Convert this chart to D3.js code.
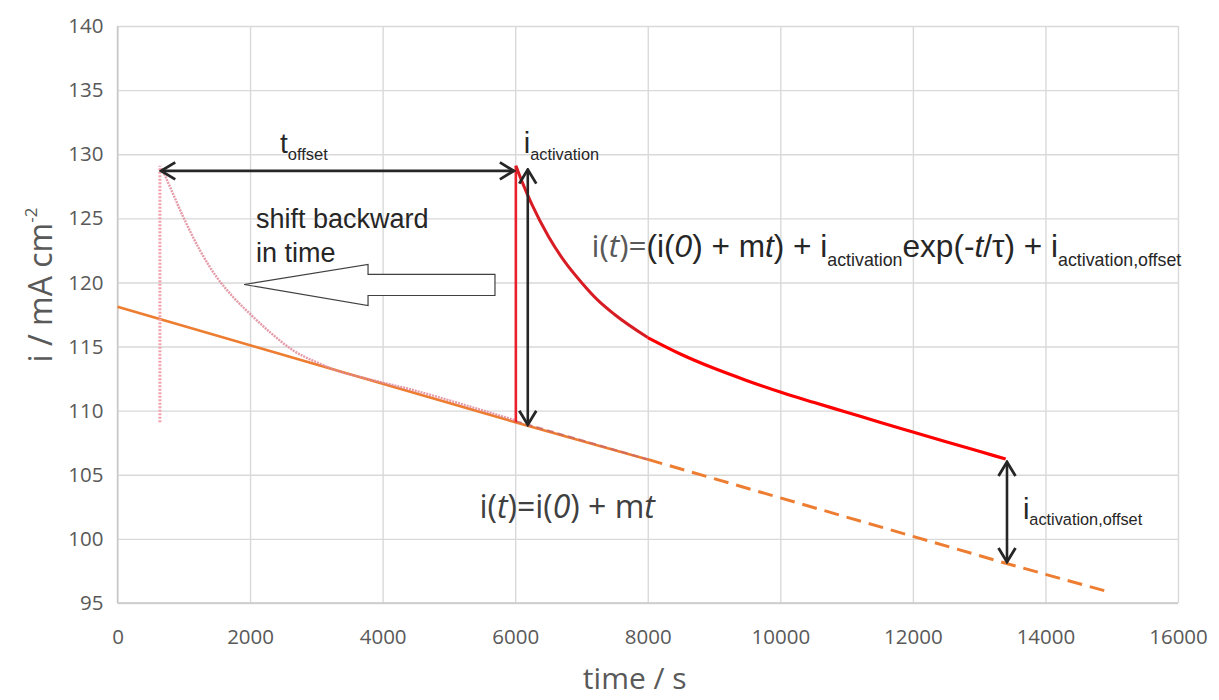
<!DOCTYPE html>
<html>
<head>
<meta charset="utf-8">
<script src="https://cdn.jsdelivr.net/npm/d3@7"></script>
<style>
  body { margin: 0; background: #fff; }
  text { white-space: pre; }
</style>
</head>
<body>
<script>
// ////////// Data ////////////
var xTicks = [0, 2000, 4000, 6000, 8000, 10000, 12000, 14000, 16000];
var yTicks = [95, 100, 105, 110, 115, 120, 125, 130, 135, 140];

// linear baseline i(0) + m t
var baseSolid  = [[0, 118.1], [2000, 115.1], [4000, 112.1], [6000, 109.1], [8000, 106.2]];
var baseDashed = [[8000, 106.2], [10000, 103.2], [12000, 100.2], [13400, 98.1], [15000, 95.8]];

// measured current after activation (inside the pasted part, then the tail)
var redHead = [[6010, 109.1], [6010, 129.1], [6100, 127.9], [6250, 126.1], [6500, 123.6],
               [6750, 121.6], [7000, 120.0], [7250, 118.6], [7500, 117.5], [8000, 115.7]];
var redTail = [[8000, 115.7], [8500, 114.4], [9000, 113.3], [9500, 112.34], [10000, 111.45],
               [10500, 110.65], [11000, 109.88], [11500, 109.1], [12000, 108.34], [12500, 107.58],
               [13000, 106.83], [13400, 106.23]];

// same curve shifted backward in time
var shiftedStep = [[640, 109.1], [640, 129.1]];
var shiftedCurve = [[667, 128.9], [792, 127.45], [993, 125.1], [1245, 122.5], [1497, 120.41],
                    [1747, 118.85], [1999, 117.55], [2301, 116.12], [2652, 114.69], [3005, 113.77],
                    [3307, 113.13], [3760, 112.5], [4500, 111.55], [5200, 110.5], [6000, 109.25]];
var shiftedTail = [[6000, 109.2], [7000, 107.7], [8000, 106.2]];

// ////////////// svg //////////////
var W = 1219, H = 700;
var margin = {top: 26, right: 41, bottom: 97, left: 117.5},
  width = W - margin.left - margin.right,
  height = H - margin.top - margin.bottom;

var svg0 = d3.select("body").append("svg")
  .attr("width", W)
  .attr("height", H);
svg0.append("rect").attr("width", W).attr("height", H).attr("fill", "#fff");

var svg = svg0.append("g")
  .attr("transform", "translate(" + margin.left + "," + margin.top + ")");

// ////////////// Scaling //////////////
var x = d3.scaleLinear().domain([0, 16000]).range([0, width]);
var y = d3.scaleLinear().domain([95, 140]).range([height, 0]);

var tickFont = "'Open Sans', 'DejaVu Sans', sans-serif";
var annFont = "'Liberation Sans', Arial, sans-serif";

// ////////////// Axes + grid //////////////
var gx = svg.append("g")
  .attr("transform", "translate(0," + height + ")")
  .call(d3.axisBottom(x).tickValues(xTicks).tickSize(-height).tickPadding(26).tickFormat(d3.format("d")));
var gy = svg.append("g")
  .call(d3.axisLeft(y).tickValues(yTicks).tickSize(-width).tickPadding(14));

[gx, gy].forEach(function(g){
  g.select(".domain").remove();
  g.selectAll(".tick line").attr("stroke", "#d9d9d9").attr("stroke-width", 1.4);
  g.selectAll(".tick text")
    .attr("fill", "#595959")
    .style("font-family", tickFont)
    .style("font-size", "20.5px");
});
// axis lines a bit darker
svg.append("line").attr("x1", 0).attr("x2", 0).attr("y1", 0).attr("y2", height)
  .attr("stroke", "#c8c8c8").attr("stroke-width", 1.4);
svg.append("line").attr("x1", 0).attr("x2", width).attr("y1", height).attr("y2", height)
  .attr("stroke", "#c8c8c8").attr("stroke-width", 1.4);

// axis titles
svg.append("text")
  .attr("x", x(8000) - 13).attr("y", height + 86)
  .attr("text-anchor", "middle")
  .attr("fill", "#595959")
  .style("font-family", tickFont).style("font-size", "30px")
  .text("time / s");

var yt = svg.append("text")
  .attr("transform", "translate(" + (-66) + "," + (y(119.8)) + ") rotate(-90)")
  .attr("text-anchor", "middle")
  .attr("fill", "#595959")
  .style("font-family", tickFont).style("font-size", "32px");
yt.append("tspan").text("i / mA cm");
yt.append("tspan").text("-2").attr("dy", -15).style("font-size", "17px");

// ////////////// Lines //////////////
var line = d3.line()
  .x(function(d){ return x(d[0]); })
  .y(function(d){ return y(d[1]); });
var smooth = d3.line()
  .x(function(d){ return x(d[0]); })
  .y(function(d){ return y(d[1]); })
  .curve(d3.curveMonotoneX);

svg.append("path").datum(baseSolid).attr("d", line)
  .attr("fill", "none").attr("stroke", "#ed7d31").attr("stroke-width", 2.6);
svg.append("path").datum(baseDashed).attr("d", line)
  .attr("fill", "none").attr("stroke", "#ed7d31").attr("stroke-width", 3)
  .attr("stroke-dasharray", "15,8");

// shifted (faded) copy
svg.append("path").datum(shiftedStep).attr("d", line)
  .attr("fill", "none").attr("stroke", "#f2a2ac").attr("stroke-width", 3)
  .attr("stroke-dasharray", "2,1.5");
svg.append("path").datum(shiftedCurve).attr("d", smooth)
  .attr("fill", "none").attr("stroke", "#e08898").attr("stroke-width", 2.4)
  .attr("stroke-dasharray", "2,1").attr("opacity", 0.85);
svg.append("path").datum(shiftedTail).attr("d", line)
  .attr("fill", "none").attr("stroke", "#c9666a").attr("stroke-width", 2)
  .attr("stroke-dasharray", "7,4").attr("opacity", 0.8);

// red measured curve
svg.append("path").datum(redHead.slice(0, 2)).attr("d", line)
  .attr("fill", "none").attr("stroke", "#e8202a").attr("stroke-width", 2.6);
svg.append("path").datum(redHead.slice(1)).attr("d", smooth)
  .attr("fill", "none").attr("stroke", "#d81c24").attr("stroke-width", 3);
svg.append("path").datum(redTail).attr("d", smooth)
  .attr("fill", "none").attr("stroke", "#ff0000").attr("stroke-width", 3.2);

// ////////////// Annotations //////////////
var defs = svg0.append("defs");
defs.append("marker")
  .attr("id", "chev")
  .attr("viewBox", "0 0 18 20")
  .attr("refX", 16).attr("refY", 10)
  .attr("markerWidth", 18).attr("markerHeight", 20)
  .attr("markerUnits", "userSpaceOnUse")
  .attr("orient", "auto-start-reverse")
  .append("path")
    .attr("d", "M2,1.5 L16,10 L2,18.5")
    .attr("fill", "none").attr("stroke", "#262626").attr("stroke-width", 2.8)
    .attr("stroke-linejoin", "miter");

function doubleArrow(p1, p2) {
  svg.append("line")
    .attr("x1", x(p1[0])).attr("y1", y(p1[1]))
    .attr("x2", x(p2[0])).attr("y2", y(p2[1]))
    .attr("stroke", "#262626").attr("stroke-width", 2.6)
    .attr("marker-start", "url(#chev)")
    .attr("marker-end", "url(#chev)");
}

doubleArrow([660, 128.7], [5980, 128.7]);     // t_offset
doubleArrow([6190, 128.8], [6190, 108.9]);    // i_activation
doubleArrow([13420, 106.0], [13420, 98.2]);   // i_activation,offset

// hollow "shift" arrow
var shiftArrow = [[1911, 119.84], [3780, 121.41], [3780, 120.63], [5695, 120.63],
                  [5695, 118.98], [3780, 118.98], [3780, 118.2]];
svg.append("polygon")
  .attr("points", shiftArrow.map(function(p){ return x(p[0]) + "," + y(p[1]); }).join(" "))
  .attr("fill", "#fff").attr("stroke", "#404040").attr("stroke-width", 1.2);

// rich text helper: parts [{s, sub, it, font, fill}]
function richText(px, py, parts, size, subSize, subDy, family, color) {
  var t = svg.append("text")
    .attr("x", px).attr("y", py)
    .attr("fill", color)
    .style("font-family", family)
    .style("font-size", size + "px");
  var cur = 0;
  parts.forEach(function(p){
    var ts = t.append("tspan").text(p.s);
    var want = p.sub ? subDy : 0;
    if (want !== cur) ts.attr("dy", want - cur);
    cur = want;
    if (p.sub) ts.style("font-size", subSize + "px");
    if (p.it) ts.style("font-style", "italic");
    if (p.font) ts.style("font-family", p.font);
    if (p.fill) ts.attr("fill", p.fill);
  });
  return t;
}

var dark = "#262626";
var eqGray = "#404040";

richText(x(2452), y(130.08), [{s: "t"}, {s: "offset", sub: true}], 28, 16.5, 7, annFont, dark);
richText(x(6130), y(130.08), [{s: "i"}, {s: "activation", sub: true}], 29, 16.3, 7, annFont, dark);
richText(x(13660), y(101.56), [{s: "i"}, {s: "activation,offset", sub: true}], 29, 16.3, 6, annFont, dark);

svg.append("text").attr("x", x(2090)).attr("y", y(124.22))
  .attr("fill", dark).style("font-family", annFont).style("font-size", "27px")
  .text("shift backward");
svg.append("text").attr("x", x(2090)).attr("y", y(121.56))
  .attr("fill", dark).style("font-family", annFont).style("font-size", "27px")
  .text("in time");

// full model equation
richText(x(7150), y(121.95), [
  {s: "i(", font: tickFont, fill: "#595959"},
  {s: "t", it: true, font: tickFont, fill: "#595959"},
  {s: ")=", font: tickFont, fill: "#595959"},
  {s: "(i("}, {s: "0", it: true}, {s: ") + m"}, {s: "t", it: true},
  {s: ") + i"}, {s: "activation", sub: true},
  {s: "exp(-"}, {s: "t", it: true}, {s: "/\u03c4) + i"},
  {s: "activation,offset", sub: true}
], 31.6, 17.8, 9, annFont, dark);

// linear baseline equation
richText(x(5460), y(101.64), [
  {s: "i("}, {s: "t", it: true}, {s: ")=i("}, {s: "0", it: true},
  {s: ") + m"}, {s: "t", it: true}
], 32, 17, 8, tickFont, eqGray);
</script>
</body>
</html>
